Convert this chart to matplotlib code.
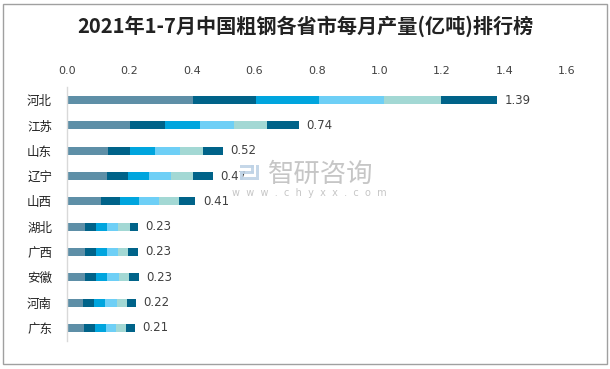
import matplotlib

matplotlib.use("Agg")
import matplotlib.pyplot as plt
import numpy as np
from matplotlib.patches import Rectangle

plt.rcParams["font.family"] = ["Noto Sans CJK SC", "DejaVu Sans"]

# Data -----------------------------------------------------------------------
provinces = ["河北", "江苏", "山东", "辽宁", "山西", "湖北", "广西", "安徽", "河南", "广东"]
months = ["1-2月", "3月", "4月", "5月", "6月", "7月"]
m12 = [0.403, 0.202, 0.132, 0.129, 0.110, 0.058, 0.058, 0.058, 0.052, 0.055]
m3 = [0.202, 0.112, 0.070, 0.067, 0.061, 0.035, 0.035, 0.035, 0.035, 0.035]
m4 = [0.201, 0.112, 0.080, 0.067, 0.061, 0.035, 0.035, 0.035, 0.035, 0.035]
m5 = [0.208, 0.109, 0.080, 0.070, 0.064, 0.035, 0.035, 0.038, 0.038, 0.032]
m6 = [0.182, 0.105, 0.073, 0.070, 0.064, 0.038, 0.032, 0.032, 0.032, 0.032]
m7 = [0.181, 0.102, 0.064, 0.064, 0.051, 0.026, 0.032, 0.032, 0.029, 0.029]
totals = [1.39, 0.74, 0.52, 0.47, 0.41, 0.23, 0.23, 0.23, 0.22, 0.21]
xticks = [0.0, 0.2, 0.4, 0.6, 0.8, 1.0, 1.2, 1.4, 1.6]

COLORS = ["#5E8FA7", "#006389", "#00A5DE", "#6ECFF6", "#A3D8D4", "#006389"]
TEXT = "#404040"
W, H = 610, 369

fig = plt.figure(figsize=(6.10, 3.69), dpi=100, facecolor="white")
ax = fig.add_axes([0.1093, 0.077, 0.8202, 0.686])

# ---- stacked bars -----------------------------------------------------------
y = np.arange(len(provinces))
left = np.zeros(len(provinces))
for vals, col, lab in zip([m12, m3, m4, m5, m6, m7], COLORS, months):
    ax.barh(y, vals, left=left, height=0.32, color=col, linewidth=0, label=lab)
    left += np.array(vals)

for yi, end, tot in zip(y, left, totals):
    ax.text(end + 0.025, yi, f"{tot:.2f}", va="center", ha="left",
            fontsize=8.5, color=TEXT, family=["DejaVu Sans"])

ax.set_xlim(0, 1.6)
ax.set_ylim(len(provinces) - 0.5, -0.5)
ax.set_xticks(xticks)
ax.set_xticklabels([f"{t:.1f}" for t in xticks], family=["DejaVu Sans"])
ax.xaxis.tick_top()
ax.tick_params(axis="x", length=0, pad=8, labelsize=8, colors=TEXT)
ax.set_yticks(y)
ax.set_yticklabels(provinces)
ax.tick_params(axis="y", length=0, pad=10.5, labelsize=9, colors="#222222")

for s in ["top", "right", "bottom"]:
    ax.spines[s].set_visible(False)
ax.spines["left"].set_color("#D9D9D9")
ax.spines["left"].set_linewidth(1.0)

# ---- title, watermark, frame ------------------------------------------------
fig.text(0.5, 1 - 26 / H, "2021年1-7月中国粗钢各省市每月产量(亿吨)排行榜", ha="center",
         va="center", fontsize=14.5, weight="bold", color="#222222")

fig.text(268 / W, 1 - 174 / H, "智研咨询", ha="left", va="center", fontsize=19,
         color="#B8B8B8", alpha=0.8)
fig.text(232 / W, 1 - 193 / H, "w  w  w  .  c  h  y  x  x  .  c  o  m", ha="left",
         va="center", fontsize=7, color="#B8B8B8", alpha=0.8, family=["DejaVu Sans"])
# little logo block
for (x0, y0, w, h) in [(240, 165, 14, 3), (251, 165, 3, 8), (240, 171, 14, 3),
                       (240, 171, 3, 9), (240, 177, 16, 3), (256, 165, 3, 15)]:
    fig.patches.append(Rectangle((x0 / W, 1 - (y0 + h) / H), w / W, h / H,
                                 transform=fig.transFigure, facecolor="#BFD3E6",
                                 edgecolor="none", alpha=0.9))

fig.patches.append(Rectangle((3 / W, 5 / H), 604 / W, 360 / H,
                             transform=fig.transFigure, fill=False,
                             edgecolor="#A0A0A0", linewidth=1.0))

fig.savefig("out.png", dpi=100, facecolor="white")
